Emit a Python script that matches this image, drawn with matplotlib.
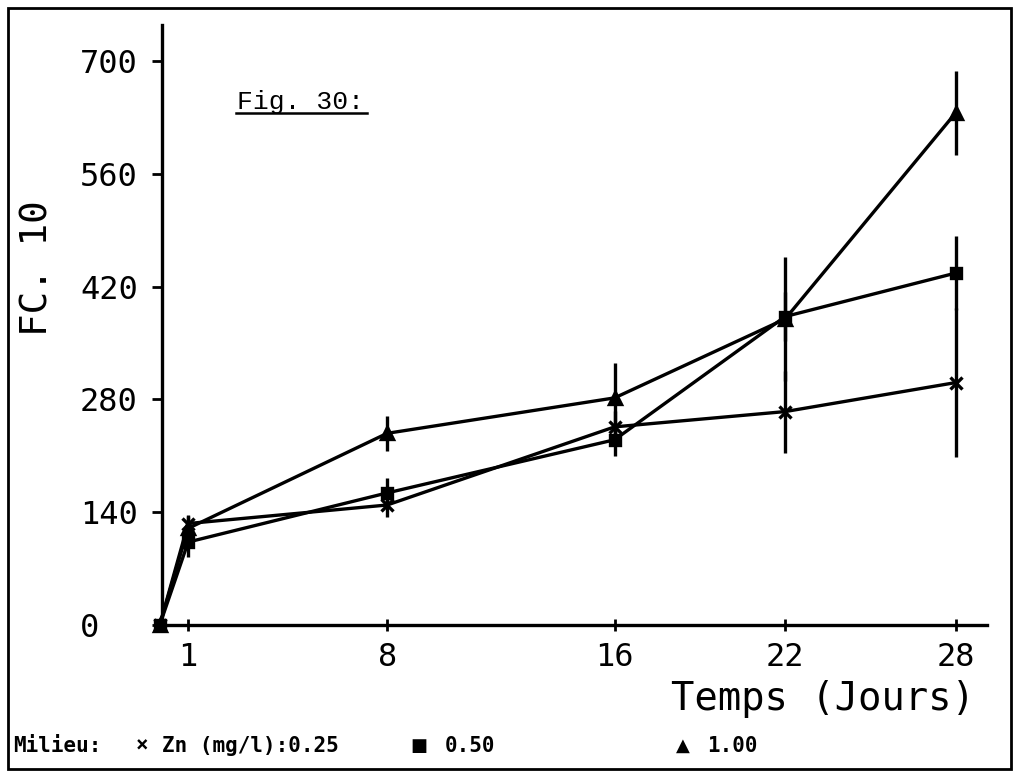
import matplotlib
matplotlib.use("Agg")
import matplotlib.pyplot as plt
from matplotlib.patches import Rectangle
from matplotlib.lines import Line2D

# ---- data ----
days = [0, 1, 8, 16, 22, 28]
zn025 = [0, 126, 149, 246, 265, 301]
zn025_err = [0, 10, 15, 20, 51, 92]
zn050 = [0, 103, 164, 230, 383, 437]
zn050_err = [0, 18, 18, 20, 30, 46]
zn100 = [0, 120, 238, 282, 380, 636]
zn100_err = [0, 15, 22, 43, 77, 52]

xticks = [1, 8, 16, 22, 28]
yticks = [0, 140, 280, 420, 560, 700]

W, H = 1017, 776
fig = plt.figure(figsize=(W / 100, H / 100), dpi=100)
fig.patch.set_facecolor("white")

def fx(px):
    return px / W

def fy(py):
    return 1 - py / H

ax = fig.add_axes([fx(162), fy(625), fx(987) - fx(162), fy(25) - fy(625)])
ax.set_xlim(0.08, 29.1)
ax.set_ylim(0, 745)

series = [
    (zn025, zn025_err, "x", 8),
    (zn050, zn050_err, "s", 7),
    (zn100, zn100_err, "^", 9),
]
for vals, errs, mk, ms in series:
    ax.errorbar(days, vals, yerr=errs, color="black", lw=2.4, elinewidth=2.4,
                capsize=0, marker=mk, ms=ms, mew=2.4, mfc="black", mec="black",
                clip_on=False, zorder=3)

for s in ["top", "right"]:
    ax.spines[s].set_visible(False)
for s in ["left", "bottom"]:
    ax.spines[s].set_linewidth(2.4)

ax.set_xticks(xticks)
ax.set_yticks(yticks)
ax.set_xticklabels([str(v) for v in xticks], fontsize=23, family="DejaVu Sans Mono")
ax.set_yticklabels([str(v) for v in yticks], fontsize=23, family="DejaVu Sans Mono",
                   ha="left")
ax.tick_params(axis="y", direction="out", length=7, width=2, pad=52)
ax.tick_params(axis="x", direction="inout", length=8, width=2, pad=8)

ax.set_xlabel("Temps (Jours)", fontsize=28, family="DejaVu Sans Mono")
ax.xaxis.set_label_coords((975 - 162) / (987 - 162), -(699 - 625) / 600)
ax.xaxis.label.set_horizontalalignment("right")
ax.xaxis.label.set_verticalalignment("center")

fig.text(fx(38), fy(268), "FC. 10", rotation=90, fontsize=27,
         family="DejaVu Sans Mono", ha="center", va="center")

# figure title with underline
fig.text(fx(237), fy(109), "Fig. 30:", fontsize=19, family="Liberation Mono",
         ha="left", va="baseline")
fig.add_artist(Line2D([fx(236), fx(367)], [fy(113), fy(113)], color="black", lw=1.8))

# bottom legend line
fs = 15
kw = dict(fontsize=fs, family="DejaVu Sans Mono", weight="bold", ha="left", va="center")
kw2 = dict(fontsize=fs - 2, family="DejaVu Sans", weight="bold", ha="left", va="center")
fig.text(fx(13), fy(746), "Milieu:", **kw)
fig.text(fx(136), fy(746), "×", **kw)
fig.text(fx(162), fy(746), "Zn (mg/l):0.25", **kw)
fig.text(fx(410), fy(746), "■", **kw2)
fig.text(fx(445), fy(746), "0.50", **kw)
fig.text(fx(676), fy(746), "▲", **kw2)
fig.text(fx(707), fy(746), "1.00", **kw)

# frame around the whole figure
fig.add_artist(Rectangle((fx(8), fy(769)), fx(1011) - fx(8), fy(8) - fy(769),
                         fill=False, ec="black", lw=2.0, transform=fig.transFigure))

fig.savefig("out.png", dpi=100, facecolor="white")
